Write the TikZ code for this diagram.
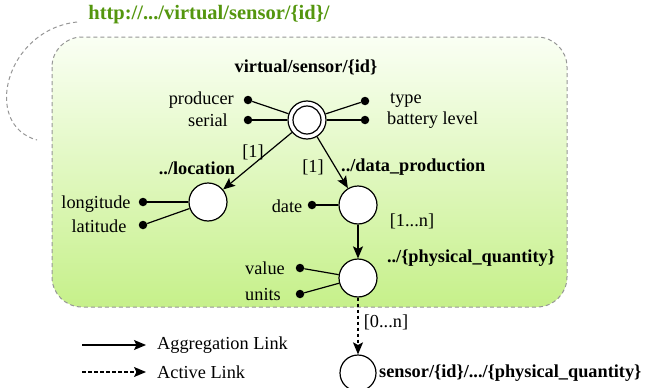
\documentclass[tikz,border=0pt]{standalone}
\usepackage{fontspec}
\setmainfont{Liberation Serif}
\usetikzlibrary{arrows.meta}
\definecolor{urlgreen}{RGB}{84,150,14}
\definecolor{boxtop}{RGB}{250,255,244}
\definecolor{boxbot}{RGB}{198,240,138}
\definecolor{dashgray}{RGB}{150,150,150}
\begin{document}
\begin{tikzpicture}[x=1pt,y=-1pt,
  font=\fontsize{18.3}{21}\selectfont,
  ent/.style={circle,draw,line width=1.2pt,fill=white,minimum size=38pt,inner sep=0pt},
  dotn/.style={circle,fill=black,minimum size=8.5pt,inner sep=0pt},
  lnk/.style={line width=1.2pt},
  agg/.style={lnk,-{Stealth[length=12pt,width=10pt,inset=2.5pt]}},
  act/.style={agg,dash pattern=on 3.5pt off 2.5pt},
  lbl/.style={font=\fontsize{18.3}{21}\selectfont\bfseries},
  txt/.style={inner sep=0pt},
  frame/.style={dashgray,line width=1pt,dash pattern=on 4pt off 3pt}]
\useasboundingbox (0,0) rectangle (648,388);
% container
\shade[top color=boxtop,bottom color=boxbot,rounded corners=30pt] (52,37) rectangle (567,307);
\draw[frame,rounded corners=30pt] (52,37) rectangle (567,307);
\node[txt,text=urlgreen,font=\fontsize{20.5}{24}\selectfont\bfseries] (url) at (209,15) {http://.../virtual/sensor/\{id\}/};
\coordinate (arcA) at (77,22);
\coordinate (arcB) at (37,140);
\draw[frame] (arcA) .. controls (5,30) and (-18,125) .. (arcB);
% root
\node[ent,minimum size=38pt] (root) at (307,120) {};
\node[circle,draw,line width=1.2pt,minimum size=28pt,inner sep=0pt] (rootin) at (root.center) {};
\node[lbl,txt] (rootl) at (306,67) {virtual/sensor/\{id\}};
\node[dotn] (dprod) at (248,100) {};
\node[dotn] (dser) at (248,120) {};
\node[dotn] (dtype) at (365,101) {};
\node[dotn] (dbat) at (365,120) {};
\node[txt,anchor=east] (tprod) at (234,100) {producer};
\node[txt,anchor=east] (tser) at (228,120) {serial};
\node[txt,anchor=west] (ttype) at (390,100) {type};
\node[txt,anchor=west] (tbat) at (387,120) {battery level};
\draw[lnk] (dprod) -- (root);
\draw[lnk] (dser) -- (root);
\draw[lnk] (dtype) -- (root);
\draw[lnk] (dbat) -- (root);
% location
\node[ent] (loc) at (208,202) {};
\node[lbl,txt] (locl) at (197,168) {../location};
\node[dotn] (dlon) at (143,202) {};
\node[dotn] (dlat) at (143,225) {};
\node[txt] (tlon) at (96,204) {longitude};
\node[txt] (tlat) at (99,226) {latitude};
\draw[lnk] (dlon) -- (loc);
\draw[lnk] (dlat) -- (loc);
\draw[agg] (root) -- (loc);
\node[txt] (m1) at (253,152) {[1]};
% data production
\node[ent] (data) at (358,205) {};
\node[lbl,txt,anchor=west] (datal) at (341,167) {../data\_production};
\node[dotn] (ddate) at (312,205) {};
\node[txt] (tdate) at (287,206) {date};
\node[txt] (m2) at (313,167) {[1]};
\draw[lnk] (ddate) -- (data);
\draw[agg] (root) -- (data);
% physical quantity
\node[ent] (phys) at (358,278) {};
\node[lbl,txt] (physl) at (471,258) {../\{physical\_quantity\}};
\node[dotn] (dval) at (300,268) {};
\node[dotn] (dunit) at (300,294) {};
\node[txt] (tval) at (265,268) {value};
\node[txt] (tunit) at (263,295) {units};
\draw[lnk] (dval) -- (phys);
\draw[lnk] (dunit) -- (phys);
\draw[agg] (data) -- (phys);
\node[txt] (m3) at (412,221) {[1...n]};
% final
\node[ent,minimum size=36pt] (fin) at (358,373) {};
\node[lbl,txt,anchor=west] (finl) at (379,373) {sensor/\{id\}/.../\{physical\_quantity\}};
\draw[act] (phys) -- (fin);
\node[txt] (m4) at (386,322) {[0...n]};
% legend
\coordinate (l1a) at (82,345);
\coordinate (l1b) at (146,345);
\coordinate (l2a) at (82,372);
\coordinate (l2b) at (146,372);
\draw[agg] (l1a) -- (l1b);
\draw[act] (l2a) -- (l2b);
\node[txt,anchor=west] (lg1) at (157,345) {Aggregation Link};
\node[txt,anchor=west] (lg2) at (157,372) {Active Link};
\end{tikzpicture}
\end{document}
